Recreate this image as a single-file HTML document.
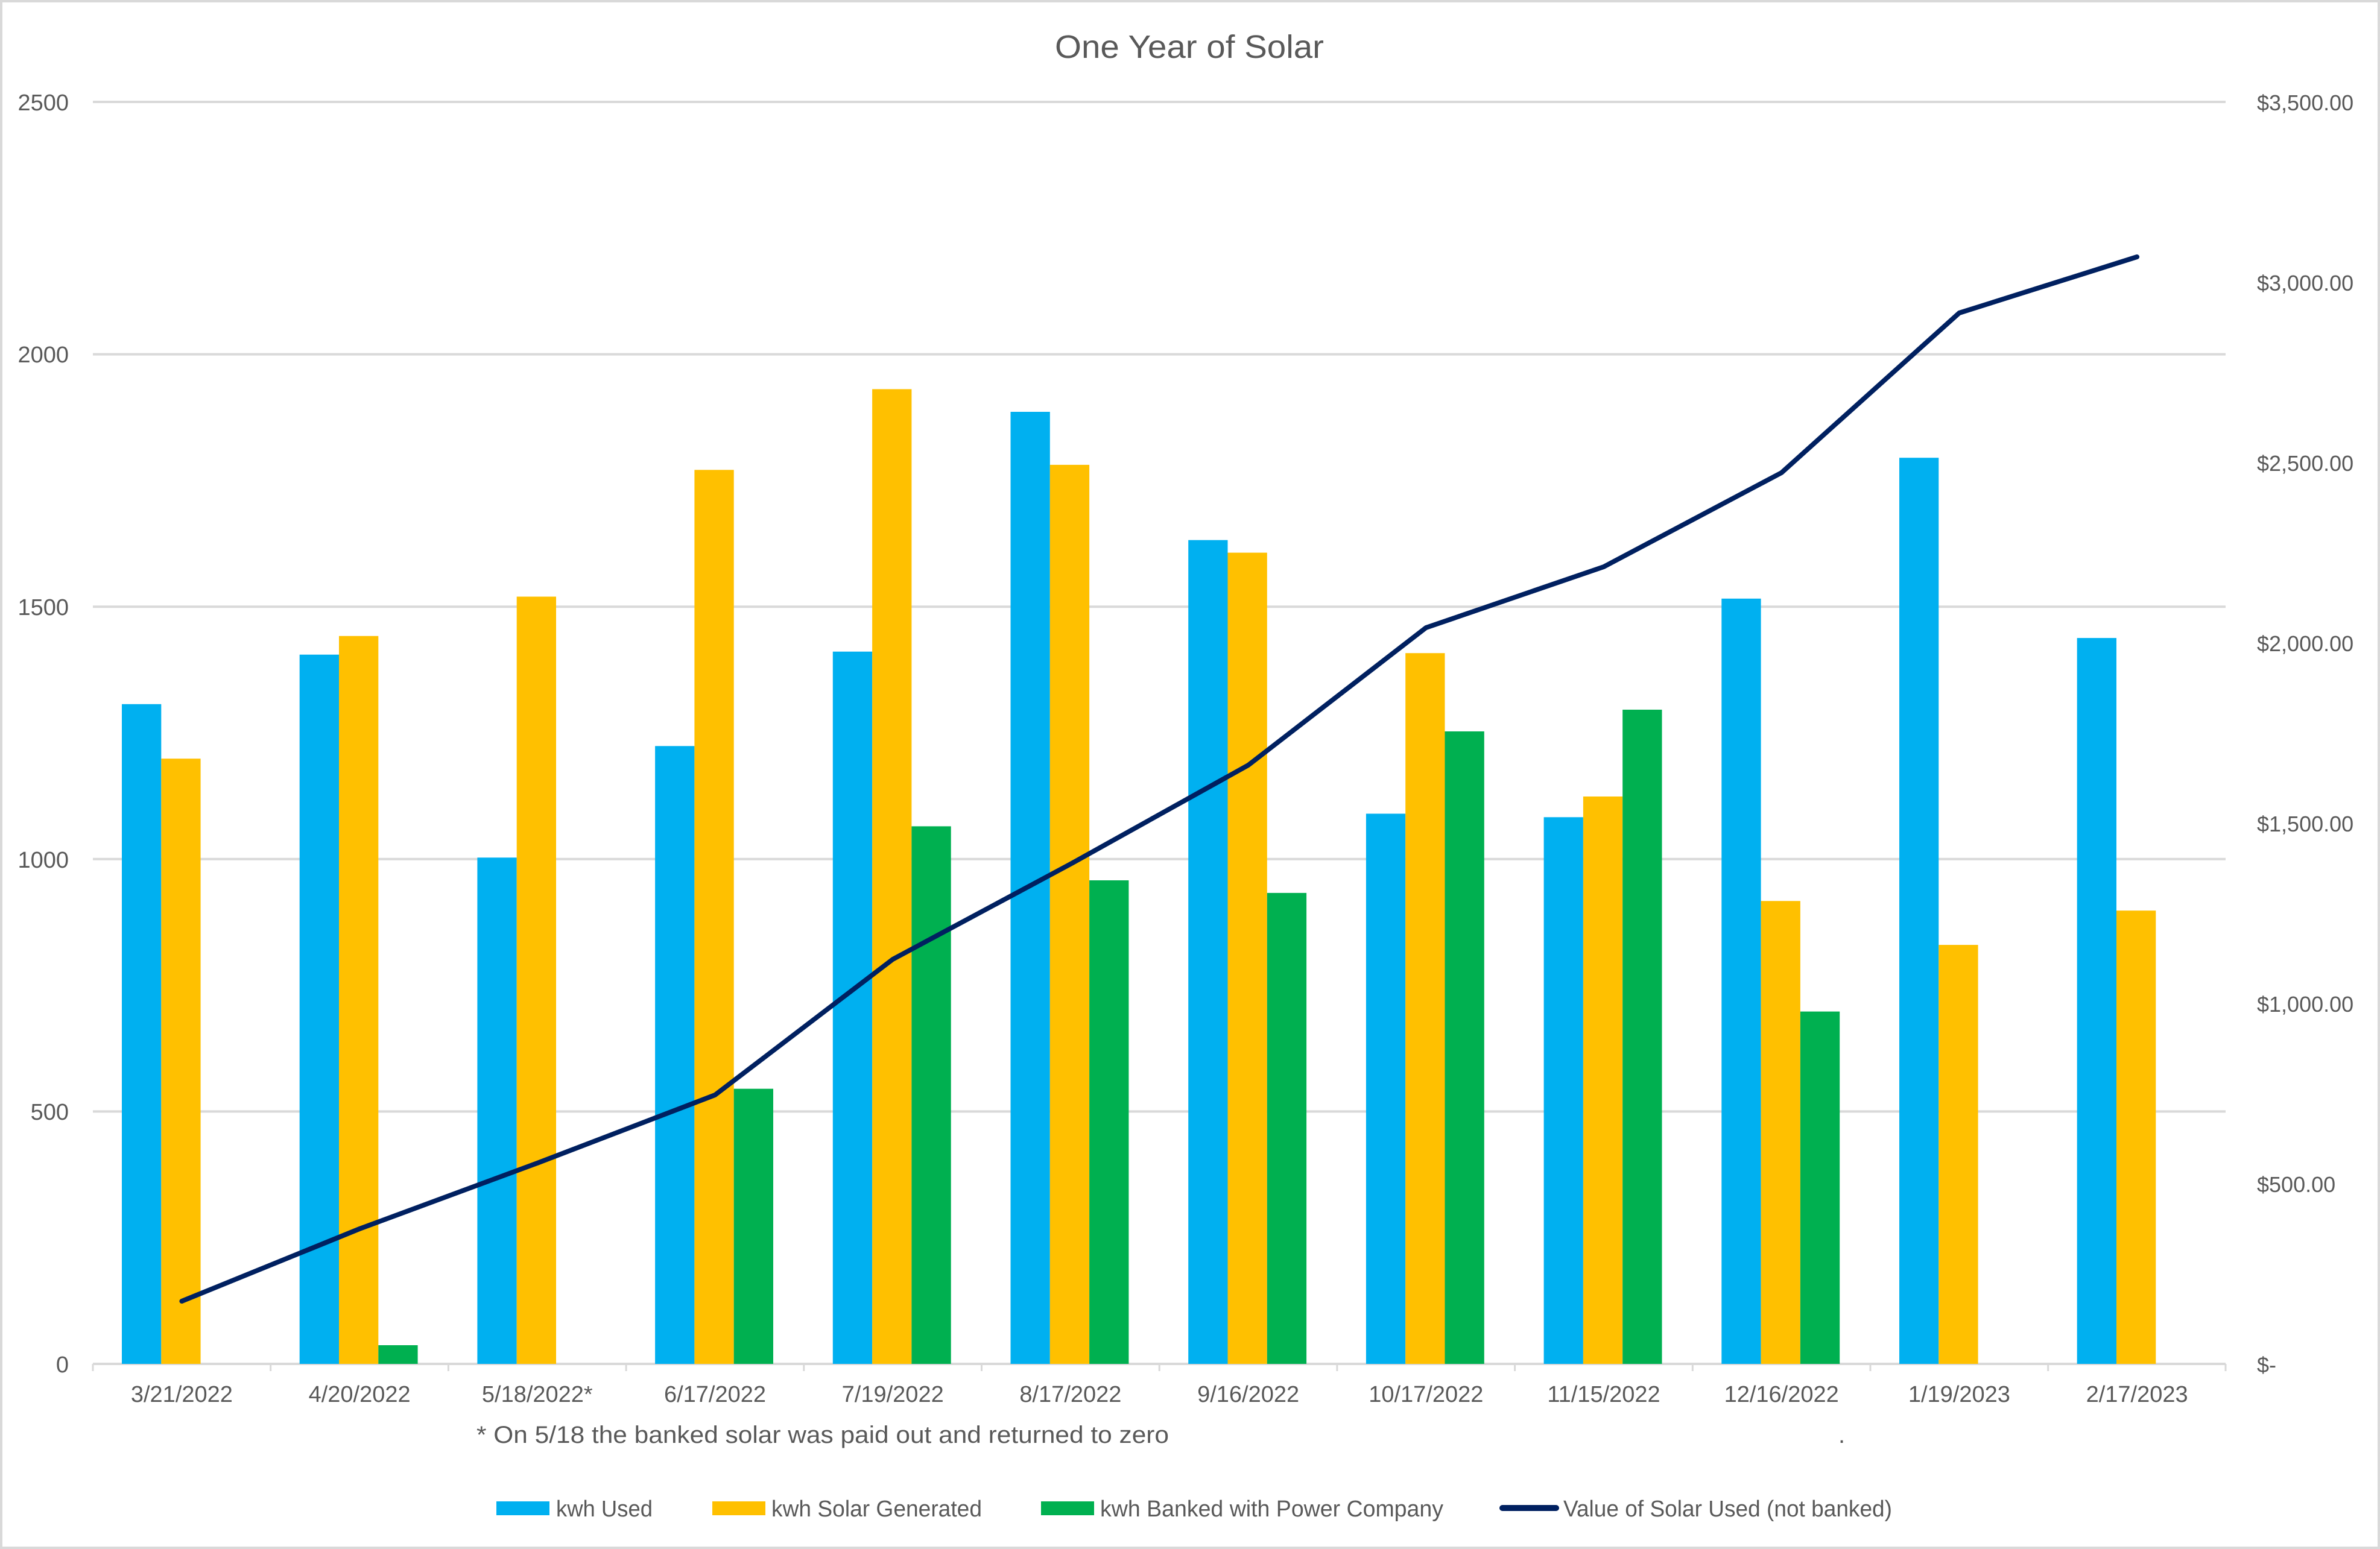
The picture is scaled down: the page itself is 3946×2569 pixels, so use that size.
<!DOCTYPE html>
<html><head><meta charset="utf-8"><style>
html,body{margin:0;padding:0;background:#fff}
svg{display:block}
text{font-family:"Liberation Sans",sans-serif;fill:#595959}
</style></head><body>
<svg width="3946" height="2569" viewBox="0 0 3946 2569" xmlns="http://www.w3.org/2000/svg">
<rect x="2" y="2" width="3942" height="2565" fill="#fff" stroke="#d9d9d9" stroke-width="4"/>
<text x="1972" y="96" font-size="54" text-anchor="middle" textLength="446" lengthAdjust="spacingAndGlyphs">One Year of Solar</text>
<g stroke="#d9d9d9" stroke-width="4">
<line x1="154" y1="169" x2="3690" y2="169"/>
<line x1="154" y1="587.6" x2="3690" y2="587.6"/>
<line x1="154" y1="1006.2" x2="3690" y2="1006.2"/>
<line x1="154" y1="1424.8" x2="3690" y2="1424.8"/>
<line x1="154" y1="1843.4" x2="3690" y2="1843.4"/>
<line x1="154" y1="2262" x2="3690" y2="2262"/>
</g>
<g stroke="#d9d9d9" stroke-width="3">
<line x1="154" y1="2262" x2="154" y2="2274"/><line x1="448.7" y1="2262" x2="448.7" y2="2274"/><line x1="743.4" y1="2262" x2="743.4" y2="2274"/><line x1="1038.1" y1="2262" x2="1038.1" y2="2274"/><line x1="1332.8" y1="2262" x2="1332.8" y2="2274"/><line x1="1627.5" y1="2262" x2="1627.5" y2="2274"/><line x1="1922.2" y1="2262" x2="1922.2" y2="2274"/><line x1="2216.9" y1="2262" x2="2216.9" y2="2274"/><line x1="2511.6" y1="2262" x2="2511.6" y2="2274"/><line x1="2806.3" y1="2262" x2="2806.3" y2="2274"/><line x1="3101" y1="2262" x2="3101" y2="2274"/><line x1="3395.7" y1="2262" x2="3395.7" y2="2274"/><line x1="3690" y1="2262" x2="3690" y2="2274"/>
</g>
<g font-size="38" text-anchor="end">
<text x="114" y="183">2500</text><text x="114" y="601">2000</text><text x="114" y="1020">1500</text><text x="114" y="1439">1000</text><text x="114" y="1857">500</text><text x="114" y="2276">0</text>
</g>
<g font-size="36">
<text x="3742" y="183">$3,500.00</text><text x="3742" y="482">$3,000.00</text><text x="3742" y="781">$2,500.00</text><text x="3742" y="1080">$2,000.00</text><text x="3742" y="1379">$1,500.00</text><text x="3742" y="1678">$1,000.00</text><text x="3742" y="1977">$500.00</text><text x="3742" y="2276">$-</text>
</g>
<!-- blue -->
<g fill="#00B0F0">
<rect x="202" y="1167.8" width="65.3" height="1094.2"/>
<rect x="496.7" y="1085.7" width="65.3" height="1176.3"/>
<rect x="791.4" y="1422.3" width="65.3" height="839.7"/>
<rect x="1086.1" y="1237.3" width="65.3" height="1024.7"/>
<rect x="1380.8" y="1080.7" width="65.3" height="1181.3"/>
<rect x="1675.5" y="683" width="65.3" height="1579"/>
<rect x="1970.2" y="895.7" width="65.3" height="1366.3"/>
<rect x="2264.9" y="1349.5" width="65.3" height="912.5"/>
<rect x="2559.6" y="1355.3" width="65.3" height="906.7"/>
<rect x="2854.3" y="992.8" width="65.3" height="1269.2"/>
<rect x="3149" y="759.2" width="65.3" height="1502.8"/>
<rect x="3443.7" y="1058.1" width="65.3" height="1203.9"/>
</g>
<g fill="#FFC000">
<rect x="267.3" y="1258.2" width="65.3" height="1003.8"/>
<rect x="562" y="1054.8" width="65.3" height="1207.2"/>
<rect x="856.7" y="989.5" width="65.3" height="1272.5"/>
<rect x="1151.4" y="779.3" width="65.3" height="1482.7"/>
<rect x="1446.1" y="645.4" width="65.3" height="1616.6"/>
<rect x="1740.8" y="770.9" width="65.3" height="1491.1"/>
<rect x="2035.5" y="916.6" width="65.3" height="1345.4"/>
<rect x="2330.2" y="1083.2" width="65.3" height="1178.8"/>
<rect x="2624.9" y="1321" width="65.3" height="941"/>
<rect x="2919.6" y="1494.3" width="65.3" height="767.7"/>
<rect x="3214.3" y="1567.1" width="65.3" height="694.9"/>
<rect x="3509" y="1510.2" width="65.3" height="751.8"/>
</g>
<g fill="#00B050">
<rect x="627.3" y="2231" width="65.3" height="31"/>
<rect x="1216.7" y="1805.7" width="65.3" height="456.3"/>
<rect x="1511.4" y="1370.4" width="65.3" height="891.6"/>
<rect x="1806.1" y="1460" width="65.3" height="802"/>
<rect x="2100.8" y="1480.9" width="65.3" height="781.1"/>
<rect x="2395.5" y="1213" width="65.3" height="1049"/>
<rect x="2690.2" y="1177" width="65.3" height="1085"/>
<rect x="2984.9" y="1677.6" width="65.3" height="584.4"/>
</g>
<polyline fill="none" stroke="#002060" stroke-width="8" stroke-linejoin="round" stroke-linecap="round"
points="301.4,2158 596.1,2038 890.8,1929 1185.5,1816 1480.2,1591 1774.9,1433 2069.6,1269 2364.3,1041 2659,940 2953.7,784 3248.4,519 3543.1,426"/>
<g font-size="38" text-anchor="middle">
<text x="301.4" y="2325">3/21/2022</text>
<text x="596.1" y="2325">4/20/2022</text>
<text x="890.8" y="2325">5/18/2022*</text>
<text x="1185.5" y="2325">6/17/2022</text>
<text x="1480.2" y="2325">7/19/2022</text>
<text x="1774.9" y="2325">8/17/2022</text>
<text x="2069.6" y="2325">9/16/2022</text>
<text x="2364.3" y="2325">10/17/2022</text>
<text x="2659" y="2325">11/15/2022</text>
<text x="2953.7" y="2325">12/16/2022</text>
<text x="3248.4" y="2325">1/19/2023</text>
<text x="3543.1" y="2325">2/17/2023</text>
</g>
<text x="790" y="2393" font-size="40" textLength="1148" lengthAdjust="spacingAndGlyphs">* On 5/18 the banked solar was paid out and returned to zero</text>
<text x="3048" y="2393" font-size="40">.</text>
<rect x="823" y="2490" width="88" height="23" fill="#00B0F0"/>
<text x="922" y="2515" font-size="38" textLength="160" lengthAdjust="spacingAndGlyphs">kwh Used</text>
<rect x="1181" y="2490" width="88" height="23" fill="#FFC000"/>
<text x="1279" y="2515" font-size="38" textLength="349" lengthAdjust="spacingAndGlyphs">kwh Solar Generated</text>
<rect x="1726" y="2490" width="88" height="23" fill="#00B050"/>
<text x="1824" y="2515" font-size="38" textLength="569" lengthAdjust="spacingAndGlyphs">kwh Banked with Power Company</text>
<line x1="2491" y1="2501" x2="2580" y2="2501" stroke="#002060" stroke-width="10" stroke-linecap="round"/>
<text x="2592" y="2515" font-size="38" textLength="545" lengthAdjust="spacingAndGlyphs">Value of Solar Used (not banked)</text>
</svg>
</body></html>
